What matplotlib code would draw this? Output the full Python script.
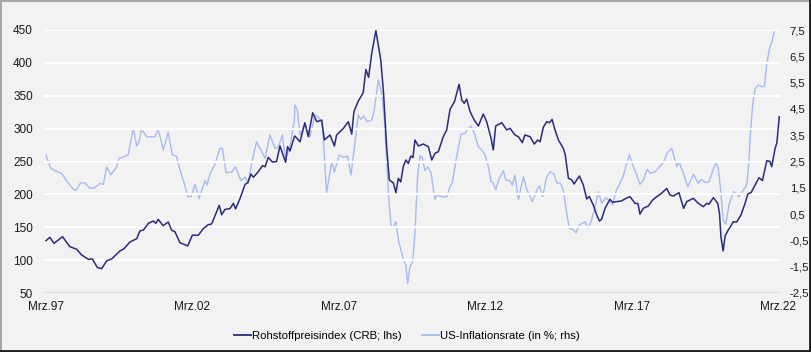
import numpy as np
import matplotlib
matplotlib.use("Agg")
import matplotlib.pyplot as plt
from matplotlib.lines import Line2D

plt.rcParams['font.family'] = ['Liberation Sans', 'DejaVu Sans']

# Monate seit Maerz 1997 (x) und Werte
crb_monat = [0, 1.6, 3.3, 6.8, 9.8, 12.6, 14.6, 17.4, 19, 21, 22.8, 24.9, 26.9, 30.3, 32, 34.4, 37.2,
             38.5, 40, 42, 44, 45, 46, 48, 50.1, 51.5, 52.9, 54.9, 56.3, 58.1, 60, 62.4, 64.5, 66.5,
             67.9, 69.5, 71, 72, 73.4, 75.4, 76.8, 77.7, 79.5, 81.6, 82.7, 84, 85, 87, 88.7, 89.8,
             91.1, 92.8, 94.5, 95.9, 98.2, 99, 100, 101.8, 102, 104.1, 106.1, 107.5, 109.3, 111, 113,
             114.1, 116.4, 118.2, 119.1, 121.9, 123.9, 125.3, 126.2, 128, 130, 131.1, 132.2, 133.5,
             135.2, 137.2, 138.3, 139.6, 140.7, 141.7, 142.4, 143.4, 144.4, 145.4, 146.4, 147.5, 148.5,
             149.5, 150.4, 151.2, 152.6, 154.6, 156.7, 158.1, 159.4, 160.8, 162.8, 164.2, 165.6, 167.4,
             169.3, 170.4, 171.4, 172.4, 173.8, 175.5, 177.2, 179.2, 180.6, 182.4, 183.3, 184.3, 186.8,
             188.8, 190.2, 192.2, 193.6, 195.2, 196.3, 198.4, 200.1, 201.5, 202.5, 203.8, 205.2, 206.4,
             207.4, 208.6, 210, 212, 212.8, 214.1, 215.5, 216.4, 218.6, 220.2, 221.6, 222.6, 224.3,
             225.7, 226.8, 227.7, 229.1, 231.1, 232.2, 233.9, 235.8, 237.7, 239.3, 241.4, 242.6, 243.4,
             244.8, 246.8, 248.6, 250.3, 251.9, 254.4, 255.7, 257.1, 259.4, 261.3, 262.6, 265.3, 267.3,
             269.4, 270.8, 271.7, 273.5, 275.3, 276, 276.6, 277.5, 278.3, 279.6, 281.7, 283, 284.8,
             286.5, 287.6, 289, 290.6, 292.2, 293.6, 295.4, 296.7, 297.4, 298.8, 299.5, 300.5]
crb_wert = [129.5, 134.7, 125.5, 135.6, 120.4, 116.5, 107.8, 101.2, 102, 89, 87, 99, 101.7, 113.9, 117.4,
            127.5, 132.6, 144.3, 146, 156, 159.5, 156, 162, 152.4, 158, 145.8, 142.8, 126.5, 124.5,
            121.5, 138, 137.7, 148, 153.9, 155, 169.6, 183.3, 169.1, 177.3, 178.2, 186.4, 178, 193.4,
            215.3, 217.8, 231, 226, 234.5, 243.6, 242, 256.4, 249.2, 250, 273.6, 248.8, 272.6, 266,
            287.7, 288.8, 280, 309, 287.7, 324.2, 310.5, 313, 282.7, 290.3, 273.6, 290.3, 300.5, 310.5,
            291.8, 325.8, 342, 354.6, 390, 378, 414.5, 449, 404.4, 356.2, 272.6, 221.8, 219.3, 217,
            202.6, 224.4, 219, 242.1, 252.3, 247, 258.4, 256, 282.7, 273.6, 276.6, 272.6, 252.3, 262.4,
            265, 287.7, 297.9, 329.4, 341, 367.4, 343.5, 338.5, 345, 325.8, 313, 304, 322.2, 310.5,
            285.3, 267.5, 304, 309, 298, 300.5, 290.3, 287.7, 278.6, 290.3, 287.7, 276.6, 282.7, 280,
            302, 310.5, 309, 314, 298, 282.7, 270, 260, 224.4, 222, 215.8, 228, 214.3, 193, 197,
            183.8, 168.6, 159.5, 162, 178.8, 192.5, 188, 189, 190, 194, 196.5, 186.4, 186, 170,
            178.8, 182.2, 191.4, 196.5, 200.6, 209, 199, 197.5, 202.6, 178.8, 189, 194, 186.4, 181.3,
            186.4, 185, 195, 186.4, 171, 135.6, 113.9, 136.7, 145.8, 158.4, 158, 168.6, 186.4, 200.6,
            203, 214.3, 225.4, 221, 251.3, 250, 242, 270, 278, 318]

infl_monat = [0, 1.9, 4.4, 6.4, 8.2, 11.2, 12.3, 14.2, 16, 18, 20, 22.1, 23.5, 24.9, 26.5, 29, 29.9,
              31.5, 33.7, 35.8, 37.2, 38, 39.2, 41.3, 44.7, 46, 48.1, 50.1, 51.8, 53.5, 54.9, 56.7,
              58.1, 59.5, 61.1, 62.7, 65.2, 66, 67.2, 69.3, 71.3, 72.3, 73.8, 76.1, 77.7, 79.9, 81.6,
              82.9, 84.6, 86.3, 88.4, 89.8, 91.8, 93.9, 95.2, 96.9, 98.2, 100, 101.8, 102, 103, 104.1,
              106.1, 108.2, 110.2, 111.5, 113, 113.7, 115, 117.1, 118.2, 120.2, 121.8, 123.6, 125,
              126.6, 128, 129, 130.1, 131.7, 133.5, 134.4, 136.2, 137.6, 138.7, 139.6, 140.7, 141.4,
              142.4, 143.4, 144.4, 145.8, 146.7, 147.5, 148.2, 149.2, 150.3, 151.2, 152.3, 153.3, 154.2,
              155.3, 156.4, 157.8, 158.4, 159.4, 160.3, 162.2, 164.2, 165.6, 166.5, 168.3, 170.1,
              171.7, 172.8, 174.2, 175.8, 177.2, 178.6, 179.9, 181.3, 182.4, 183.3, 184.3, 185.6,
              187.4, 188.4, 190, 191.1, 192.2, 193.6, 195.6, 196.9, 199.3, 201.5, 202.3, 203.5, 205.2,
              206.6, 208.2, 209.3, 210.8, 212, 213.4, 214.5, 215.9, 217.2, 218.6, 220.9, 222.3, 223.6,
              225, 226.4, 227.7, 229.5, 230.9, 232.2, 233.6, 235.2, 236.6, 238, 239.1, 240.7, 242.1,
              243.4, 244.8, 246.4, 247.6, 249.6, 251.4, 253, 254.6, 256.4, 258.5, 259.4, 261.2, 263,
              265.3, 267.3, 268.6, 270.2, 271.7, 273.1, 274.5, 275.5, 276.6, 277.5, 278.6, 279.9,
              281.7, 282.6, 284, 285.8, 287.2, 287.9, 288.7, 289.5, 290.6, 292, 293.4, 294.4, 295.4,
              296.5, 297.4, 298.5]
infl_wert = [2.75, 2.24, 2.12, 2.05, 1.8, 1.44, 1.4, 1.69, 1.68, 1.48, 1.5, 1.67, 1.63, 2.3, 1.99, 2.3,
             2.62, 2.66, 2.75, 3.76, 3.09, 3.2, 3.72, 3.44, 3.44, 3.72, 2.94, 3.61, 2.75, 2.7, 2.18,
             1.67, 1.16, 1.16, 1.63, 1.09, 1.77, 1.6, 2.03, 2.4, 3, 3, 2.07, 2.1, 2.3, 1.77, 1.9, 1.69,
             2.56, 3.25, 2.87, 2.62, 3.51, 3, 3.05, 3.51, 2.56, 3.05, 4.08, 4.65, 4.46, 3.51, 3.95,
             3.44, 4.27, 4.2, 4.01, 3.32, 1.31, 2.49, 2.1, 2.75, 2.66, 2.7, 1.99, 3.19, 4.27, 4.1,
             4.23, 4.01, 4.08, 4.39, 5.6, 5.09, 4.08, 2.56, 0.78, 0.09, 0.0, 0.21, -0.48, -0.99, -1.31,
             -1.44, -2.13, -1.5, -1.31, -0.23, 1.92, 2.71, 2.66, 2.15, 2.3, 2.07, 1.67, 1.06, 1.23,
             1.16, 1.16, 1.54, 1.69, 2.68, 3.55, 3.57, 3.72, 3.85, 3.51, 3.06, 2.94, 2.75, 2.3, 1.73,
             1.69, 1.42, 1.82, 2.15, 1.8, 1.77, 1.6, 1.99, 1.06, 1.92, 1.48, 0.97, 1.48, 1.57, 1.16,
             1.92, 2.11, 2.03, 1.69, 1.67, 1.42, 0.53, -0.04, -0.08, -0.21, 0.09, 0.21, -0.04, 0.28,
             0.78, 1.35, 0.91, 1.13, 0.97, 0.86, 1.38, 1.67, 1.95, 2.43, 2.75, 2.3, 1.99, 1.63, 1.8,
             2.2, 2.05, 2.11, 2.3, 2.46, 2.83, 3.0, 2.3, 2.49, 2.05, 1.54, 2.01, 1.67, 1.82, 1.7, 1.73,
             2.11, 2.46, 2.24, 1.29, 0.28, 0.12, 0.85, 1.35, 1.31, 1.16, 1.42, 1.61, 2.3, 3.57, 4.58,
             5.28, 5.41, 5.34, 5.36, 6.23, 6.8, 7.02, 7.47]

tick_pos = [0, 60, 120, 180, 240, 300]
tick_lab = ['Mrz.97', 'Mrz.02', 'Mrz.07', 'Mrz.12', 'Mrz.17', 'Mrz.22']

bg = '#f2f2f2'
dunkel = '#2b2b7c'
hell = '#a8baf0'

fig = plt.figure(figsize=(8.12, 3.52), dpi=100, facecolor=bg)
ax = fig.add_axes([44 / 812, 1 - 293 / 352, 736 / 812, 263 / 352])
ax.set_facecolor(bg)
ax2 = ax.twinx()

for y in range(100, 451, 50):
    ax.axhline(y, color='white', lw=1.6, zorder=0)
ax.axhline(50, color='#d9d9d9', lw=1.2, zorder=0)

ax2.plot(infl_monat, infl_wert, color=hell, lw=1.0)
ax.plot(crb_monat, crb_wert, color=dunkel, lw=1.1)
ax.set_zorder(ax2.get_zorder() + 1)
ax.patch.set_visible(False)
ax2.patch.set_facecolor(bg)

ax.set_xlim(-0.8, 300.8)
ax.set_ylim(50, 450)
ax2.set_ylim(-2.5, 7.5)
ax.set_yticks(range(50, 451, 50))
ax2.set_yticks(np.arange(-2.5, 7.6, 1.0))
ax2.set_yticklabels([f'{v:.1f}'.replace('.', ',') for v in np.arange(-2.5, 7.6, 1.0)])
ax.set_xticks(tick_pos)
ax.set_xticklabels(tick_lab)

for a in (ax, ax2):
    for s in a.spines.values():
        s.set_visible(False)
    a.tick_params(length=0, labelsize=8.5, colors='#1a1a1a')
ax.tick_params(axis='x', pad=6)
ax.tick_params(axis='y', pad=8)
ax2.tick_params(axis='y', pad=7, labelsize=8.2)

handles = [Line2D([], [], color=dunkel, lw=1.3), Line2D([], [], color=hell, lw=1.3)]
fig.legend(handles, ['Rohstoffpreisindex (CRB; lhs)', 'US-Inflationsrate (in %; rhs)'],
           loc='center', bbox_to_anchor=(407 / 812, 1 - 336 / 352), ncol=2, frameon=False,
           fontsize=8.2, handlelength=1.5, handletextpad=0.1, columnspacing=1.8)

# Rahmen
fig.add_artist(Line2D([0, 1], [0.998, 0.998], color='#a6a6a6', lw=1.5, transform=fig.transFigure))
fig.add_artist(Line2D([0.001, 0.001], [0, 1], color='#a6a6a6', lw=1.5, transform=fig.transFigure))
fig.add_artist(Line2D([0, 1], [0.004, 0.004], color='#1a1a1a', lw=2, transform=fig.transFigure))
fig.add_artist(Line2D([0.998, 0.998], [0, 1], color='#1a1a1a', lw=2, transform=fig.transFigure))

fig.savefig('out.png', dpi=100, facecolor=bg)
